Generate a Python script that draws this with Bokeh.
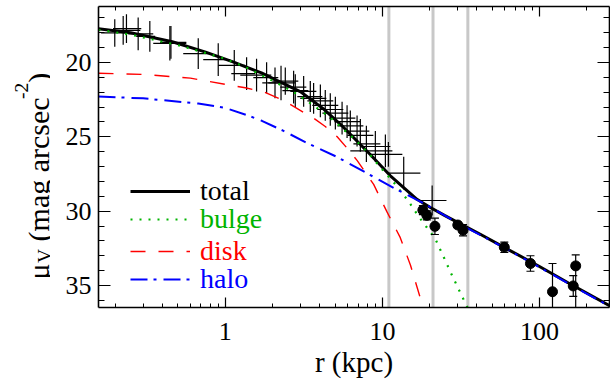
import numpy as np
from bokeh.plotting import figure
from bokeh.layouts import row
from bokeh.models import (LinearAxis, LogAxis, FixedTicker, PrintfTickFormatter, Span,
                          Label, Legend, LegendItem)
from bokeh.embed import file_html
from bokeh.resources import INLINE

# ---------------- data ----------------
# model curves (r in kpc, mu_V in mag/arcsec^2)
total_r = [0.156, 0.25, 0.46, 0.75, 1.12, 1.7, 2.13, 3.0, 4.2, 5.65, 8.4, 11.2, 16.6, 20.2, 25.0, 31.4, 42.0, 60.0, 100.0, 150.0, 279.0]
total_mu = [17.72, 18.0, 18.6, 19.3, 19.95, 20.7, 21.2, 21.95, 23.1, 24.35, 26.2, 27.6, 29.2, 29.75, 30.3, 30.85, 31.55, 32.45, 33.72, 34.78, 36.35]

bulge_r = [0.156, 0.253, 0.527, 0.95, 1.33, 2.13, 2.79, 3.23, 4.13, 4.66, 5.8, 6.57, 8.17, 9.9, 12.1, 14.7, 17.0, 19.2, 21.7, 24.6, 27.7, 32.9, 36.0]
bulge_mu = [17.8, 18.13, 18.89, 19.68, 20.28, 21.37, 22.06, 22.5, 23.3, 23.7, 24.6, 25.1, 26.1, 27.15, 28.2, 29.35, 30.35, 31.1, 31.85, 33.1, 34.3, 35.95, 36.8]

disk_r = [0.156, 0.3, 0.6, 1.0, 1.34, 1.79, 2.4, 3.0, 3.66, 4.33, 5.14, 5.96, 6.9, 7.8, 8.8, 9.7, 10.7, 13.0, 15.1, 17.3]
disk_mu = [20.72, 20.8, 21.05, 21.47, 21.7, 22.0, 22.6, 23.22, 23.75, 24.3, 24.98, 25.76, 26.58, 27.39, 28.2, 29.12, 30.05, 31.78, 33.64, 35.72]

halo_r = [0.156, 0.3, 0.673, 1.0, 1.40, 1.71, 2.35, 3.23, 5.14, 7.8, 11.8, 18.3, 31.4, 60.0, 279.0]
halo_mu = [22.29, 22.41, 22.76, 23.05, 23.57, 23.92, 24.6, 25.35, 26.35, 27.39, 28.43, 29.47, 30.9, 32.47, 36.4]

# inner profile points with errors in r and mu
cross_r = [0.198, 0.224, 0.235, 0.279, 0.331, 0.444, 0.451, 0.673, 0.902, 1.141, 1.367, 1.582, 1.833, 2.073, 2.264, 2.41, 2.723, 2.79, 3.154, 3.477, 3.65, 4.03, 4.33, 4.66, 5.02, 5.54, 5.96, 6.25, 6.90, 7.24, 7.91, 9.02, 10.45, 10.92, 13.67, 20.74]
cross_mu = [18.01, 17.84, 17.72, 18.07, 18.24, 18.71, 18.65, 19.40, 19.81, 20.19, 20.74, 20.85, 21.02, 21.37, 21.37, 21.25, 21.66, 21.89, 21.94, 22.29, 22.41, 22.58, 22.88, 23.16, 23.40, 23.74, 23.97, 24.26, 24.61, 24.90, 25.47, 25.65, 25.94, 26.18, 27.44, 29.28]
cross_mu_err = [0.92, 0.97, 0.97, 1.10, 1.04, 1.16, 1.10, 1.04, 1.10, 1.04, 1.10, 1.10, 1.04, 1.04, 1.16, 0.92, 1.10, 1.10, 1.04, 1.04, 1.04, 1.10, 1.04, 1.10, 1.10, 1.10, 1.10, 1.04, 1.04, 1.10, 1.22, 1.04, 1.10, 0.83, 1.10, 1.00]
cross_r_lo = [0.162, 0.188, 0.193, 0.241, 0.271, 0.348, 0.385, 0.540, 0.724, 0.902, 1.092, 1.246, 1.508, 1.72, 1.879, 1.992, 2.24, 2.31, 2.594, 2.874, 3.0, 3.33, 3.58, 3.85, 4.15, 4.59, 4.95, 5.17, 5.73, 5.99, 6.54, 7.24, 6.25, 8.39, 10.76, 17.46]
cross_r_hi = [0.252, 0.288, 0.292, 0.348, 0.358, 0.565, 0.565, 0.814, 1.076, 1.34, 1.553, 1.963, 2.175, 2.448, 2.79, 2.917, 3.28, 3.38, 3.80, 4.15, 4.40, 4.87, 5.24, 5.64, 6.07, 6.73, 7.24, 7.57, 8.26, 8.76, 9.71, 11.25, 11.58, 13.4, 17.46, 25.58]

# outer halo points (filled circles) with asymmetric mu errors
dot_r = [18.1, 19.2, 21.6, 30.2, 32.6, 59.7, 87.6, 121.0, 164.0, 170.0]
dot_mu = [29.93, 30.28, 31.02, 30.93, 31.28, 32.43, 33.52, 35.42, 35.03, 33.68]
dot_mu_lo = [29.63, 29.98, 30.47, 30.73, 30.90, 32.08, 33.00, 33.52, 34.33, 32.94]
dot_mu_hi = [30.23, 30.58, 31.57, 31.13, 31.66, 32.78, 34.04, 37.50, 35.73, 37.50]

# marked radii (grey vertical lines)
gray_r = [11.0, 21.0, 35.0]

# axis ticks
x_major = [1, 10, 100]
x_minor = [0.2, 0.3, 0.4, 0.5, 0.6, 0.7, 0.8, 0.9, 2, 3, 4, 5, 6, 7, 8, 9,
           20, 30, 40, 50, 60, 70, 80, 90, 200]
y_major = [20, 25, 30, 35]
y_minor = list(range(17, 37))

SERIF = "Liberation Serif"
W_LAB = 50
H = 380

# ---------------- main figure ----------------
p = figure(width=610 - W_LAB, height=H, x_axis_type="log",
           x_range=(0.156, 279), y_range=(36.48, 16.23),
           output_backend="svg", toolbar_location=None,
           min_border_left=98 - W_LAB, min_border_right=1, min_border_top=6, min_border_bottom=0)
p.xgrid.grid_line_color = None
p.ygrid.grid_line_color = None
p.outline_line_color = None
p.background_fill_color = "white"

xt = FixedTicker(ticks=x_major, minor_ticks=x_minor)
yt = FixedTicker(ticks=y_major, minor_ticks=y_minor)

top = LogAxis(ticker=xt, major_label_overrides={1: "", 10: "", 100: ""})
right = LinearAxis(ticker=yt, major_label_overrides={20: "", 25: "", 30: "", 35: ""})
p.add_layout(top, "above")
p.add_layout(right, "right")

bottom = p.below[0]
left = p.left[0]
bottom.ticker = xt
left.ticker = yt
bottom.formatter = PrintfTickFormatter(format="%d")

for ax in [bottom, top]:
    ax.major_tick_in = 10
    ax.minor_tick_in = 4
for ax in [left, right]:
    ax.major_tick_in = 12
    ax.minor_tick_in = 6
for ax in [bottom, top, left, right]:
    ax.major_tick_out = 0
    ax.minor_tick_out = 0
    ax.axis_line_width = 1.6
    ax.axis_line_color = "black"
    ax.major_tick_line_color = "black"
    ax.minor_tick_line_color = "black"
    ax.major_tick_line_width = 1.2
    ax.minor_tick_line_width = 1.0
    ax.major_label_text_font = SERIF
    ax.major_label_text_color = "black"
    ax.major_label_text_font_size = "26px"
for ax in [top, right]:
    ax.major_label_text_font_size = "2px"
    ax.major_label_standoff = 0
left.major_label_standoff = 7
bottom.major_label_standoff = 15
bottom.axis_label = "r (kpc)"
bottom.axis_label_text_font = SERIF
bottom.axis_label_text_font_size = "29px"
bottom.axis_label_text_font_style = "normal"
bottom.axis_label_text_color = "black"
bottom.axis_label_standoff = 3

# grey marked radii
for g in gray_r:
    p.add_layout(Span(location=g, dimension="height", line_color="#c8c8c8",
                      line_width=3, level="underlay"))

# crosses
cm = np.array(cross_mu)
ce = np.array(cross_mu_err)
p.segment(x0=cross_r_lo, x1=cross_r_hi, y0=cross_mu, y1=cross_mu,
          line_color="black", line_width=1.2)
p.segment(x0=cross_r, x1=cross_r, y0=list(cm - ce), y1=list(cm + ce),
          line_color="black", line_width=1.2)

# curves
r_total = p.line(total_r, total_mu, line_color="black", line_width=3)
r_bulge = p.line(bulge_r, bulge_mu, line_color="#00b400", line_width=2.2, line_dash="2 7")
r_disk = p.line(disk_r, disk_mu, line_color="#ff0000", line_width=1.4, line_dash="15 13")
r_halo = p.line(halo_r, halo_mu, line_color="#0000ff", line_width=2, line_dash="17 6 3 7")

# outer points
p.segment(x0=dot_r, x1=dot_r, y0=dot_mu_lo, y1=dot_mu_hi, line_color="black", line_width=1.2)
p.scatter(dot_r, dot_mu_lo, marker="dash", size=8, line_color="black", line_width=1.2)
p.scatter(dot_r, dot_mu_hi, marker="dash", size=8, line_color="black", line_width=1.2)
p.scatter(dot_r, dot_mu, marker="circle", size=10, fill_color="black", line_color="black")

# legends (one per entry so each text keeps its own colour)
entries = [(r_total, "total", "black", 100), (r_bulge, "bulge", "#00b400", 72),
           (r_disk, "disk", "#ff0000", 40), (r_halo, "halo", "#0000ff", 12)]
for rend, lab, col, ypos in entries:
    lg = Legend(items=[LegendItem(label=lab, renderers=[rend])], location=(32, ypos),
                glyph_width=60, glyph_height=26, label_height=26, label_standoff=10,
                padding=0, margin=0, spacing=0, border_line_color=None,
                background_fill_alpha=0, label_text_font=SERIF,
                label_text_font_size="28px", label_text_color=col)
    p.add_layout(lg)

# ---------------- y-axis title (own narrow canvas, frame aligned with main frame) ----------------
yl = figure(width=W_LAB, height=H, x_range=(0, 1), y_range=(0, 1),
            output_backend="svg", toolbar_location=None,
            x_axis_location=None, y_axis_location=None, min_border=0)
yl.xgrid.grid_line_color = None
yl.ygrid.grid_line_color = None
yl.outline_line_color = None

ang = np.pi / 2
F = 30
S = 19.5
bx = 38          # baseline (screen px from left)
y0 = 28          # start of text (screen px above the frame bottom)
y1 = y0 + 0.55 * F             # after mu
y2 = y1 + 0.722 * S + 0.25 * F  # after subscript V and a space
y3 = y2 + 4.75 * F             # after "(mag arcsec"
y4 = y3 + 0.833 * S            # after superscript "-2"
pieces = [
    ("\u03bc", bx, y0, F),
    ("V", bx + 6, y1, S),
    ("(mag arcsec", bx, y2, F),
    ("-2", bx - 17, y3, S),
    (")", bx, y4, F),
]
for txt, xx, yy, fs in pieces:
    yl.add_layout(Label(x=xx, y=yy, x_units="screen", y_units="screen", text=txt, angle=ang,
                        text_font=SERIF, text_font_size=f"{fs}px", text_align="left",
                        text_baseline="alphabetic", text_color="black"))

layout = row(yl, p, spacing=0)
open("out.html", "w").write(file_html(layout, INLINE))
